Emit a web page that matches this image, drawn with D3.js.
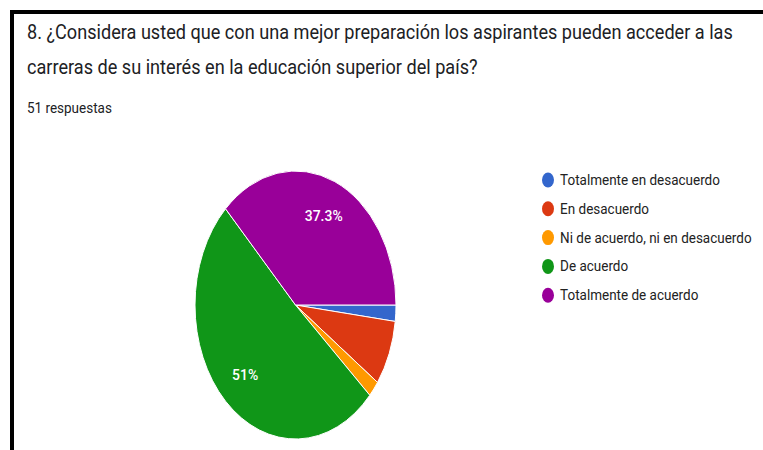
<!DOCTYPE html>
<html>
<head>
<meta charset="utf-8">
<script src="https://cdn.jsdelivr.net/npm/d3@7"></script>
<style>
  body { margin: 0; background: #fff; }
  svg { display: block; font-family: Roboto, "Noto Sans", sans-serif; }
</style>
</head>
<body>
<svg id="chart" width="763" height="450"></svg>
<script>
// data (51 answers)
const titleLines = [
  "8. ¿Considera usted que con una mejor preparación los aspirantes pueden acceder a las",
  "carreras de su interés en la educación superior del país?"
]
const subtitle = "51 respuestas"
const categories = [
  "Totalmente en desacuerdo",
  "En desacuerdo",
  "Ni de acuerdo, ni en desacuerdo",
  "De acuerdo",
  "Totalmente de acuerdo"
]
const counts = [1, 4, 1, 26, 19]
const colors = ["#3366cc", "#dc3912", "#ff9900", "#109618", "#990099"]

const svg = d3.select("#chart")

// the screenshot is squashed sideways, so text and pie get an x scale
const textSx = 0.93
const pieSx = 0.75

// frame
svg.append("path")
  .attr("d", "M12,450 V12 H763")
  .attr("fill", "none")
  .attr("stroke", "#000")
  .attr("stroke-width", 4)

const head = svg.append("g").attr("transform", `translate(27,0) scale(${textSx},1)`)
head.selectAll(".title")
  .data(titleLines)
  .enter()
  .append("text")
  .attr("class", "title")
  .attr("x", 0)
  .attr("y", (d, i) => 39 + i * 35)
  .attr("font-size", 19.5)
  .attr("fill", "#202124")
  .text(d => d)

head.append("text")
  .attr("x", 0)
  .attr("y", 113)
  .attr("font-size", 14.5)
  .attr("fill", "#202124")
  .text(subtitle)

// pie
const total = d3.sum(counts)
const r = 134
const pie = d3.pie().sort(null)
  .startAngle(Math.PI / 2)
  .endAngle(Math.PI / 2 + 2 * Math.PI)
const arc = d3.arc().innerRadius(0).outerRadius(r)
const labelArc = d3.arc().innerRadius(r * 0.72).outerRadius(r * 0.72)

const pieG = svg.append("g").attr("transform", `translate(295.5,305) scale(${pieSx},1)`)
const slices = pie(counts)

pieG.selectAll(".slice")
  .data(slices)
  .enter()
  .append("path")
  .attr("class", "slice")
  .attr("d", arc)
  .attr("fill", (d, i) => colors[i])
  .attr("stroke", "#fff")
  .attr("stroke-width", 1)
  .attr("vector-effect", "non-scaling-stroke")

const fmt = v => {
  const p = Math.round(v / total * 1000) / 10
  return p + "%"
}

pieG.selectAll(".lbl")
  .data(slices.filter(d => d.value / total > 0.1))
  .enter()
  .append("text")
  .attr("class", "lbl")
  .attr("transform", d => {
    const c = labelArc.centroid(d)
    return `translate(${c[0]},${c[1]}) scale(${textSx / pieSx},1)`
  })
  .attr("text-anchor", "middle")
  .attr("dy", "0.35em")
  .attr("font-size", 15)
  .attr("font-weight", 500)
  .attr("fill", "#fff")
  .text(d => fmt(d.value))

// legend
const legend = svg.append("g").attr("transform", "translate(548,180)")
const rows = legend.selectAll(".row")
  .data(categories)
  .enter()
  .append("g")
  .attr("class", "row")
  .attr("transform", (d, i) => `translate(0,${i * 28.8})`)

rows.append("ellipse")
  .attr("rx", 6)
  .attr("ry", 7.5)
  .attr("fill", (d, i) => colors[i])

rows.append("text")
  .attr("x", 13)
  .attr("y", 0)
  .attr("dy", "0.35em")
  .attr("transform", `scale(${textSx},1)`)
  .attr("font-size", 14.5)
  .attr("fill", "#222")
  .text(d => d)
</script>
</body>
</html>
